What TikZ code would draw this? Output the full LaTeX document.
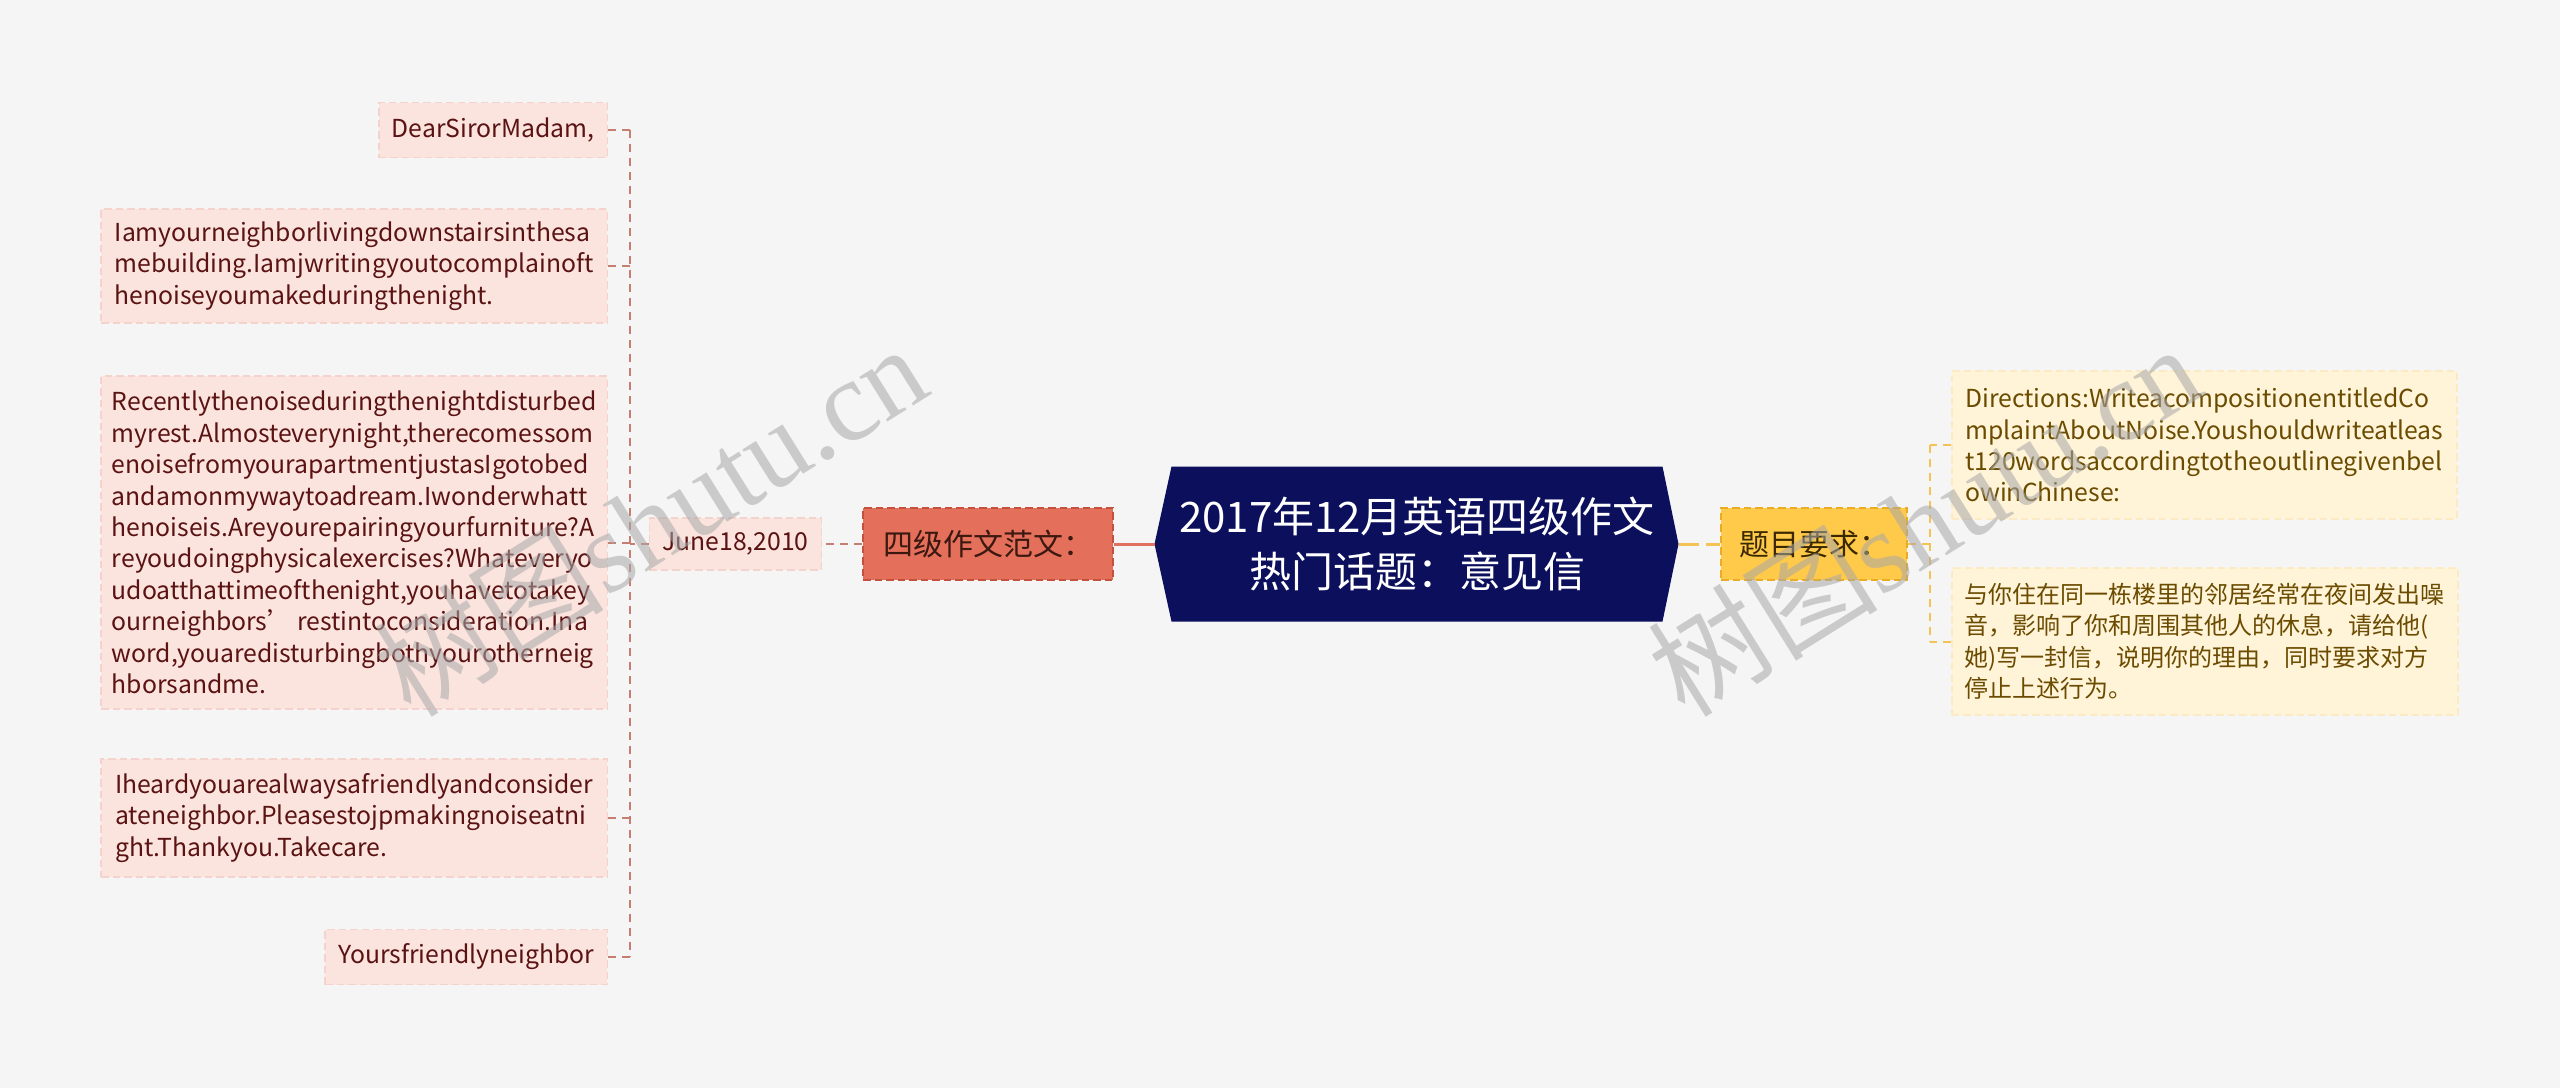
\documentclass[tikz,border=0pt]{standalone}
\usepackage{fontspec}
\setmainfont{Noto Sans CJK SC}
\newfontfamily\wmlatin{Liberation Serif}
\usetikzlibrary{calc}
\definecolor{bgc}{HTML}{F5F5F5}
\definecolor{leafLfill}{HTML}{FBE4DE}
\definecolor{leafLdraw}{HTML}{F3D3CB}
\definecolor{leafLtext}{HTML}{5A1212}
\definecolor{lineL}{HTML}{C67E70}
\definecolor{mainL}{HTML}{E07060}
\definecolor{midLfill}{HTML}{E46F5A}
\definecolor{midLdraw}{HTML}{C4513E}
\definecolor{midLtext}{HTML}{3B1810}
\definecolor{navy}{HTML}{0B0F5C}
\definecolor{midRfill}{HTML}{FFC94A}
\definecolor{midRdraw}{HTML}{E9AC24}
\definecolor{midRtext}{HTML}{3A2800}
\definecolor{leafRfill}{HTML}{FFF3D8}
\definecolor{leafRdraw}{HTML}{FBEAC4}
\definecolor{leafRtext}{HTML}{6A4B00}
\definecolor{lineR}{HTML}{F3C453}
\definecolor{wm}{HTML}{A8A8A8}
\pgfdeclarelayer{back}
\pgfdeclarelayer{hexl}
\pgfsetlayers{back,hexl,main}
\tikzset{
  boxdash/.style={dash pattern=on 3pt off 1.6pt, line width=0.6pt},
  leafL/.style={boxdash, fill=leafLfill, draw=leafLdraw, text=leafLtext,
    font=\fontsize{9.9pt}{12.56pt}\selectfont, inner xsep=5.2pt, inner ysep=0pt, align=left, anchor=east},
  leafR/.style={boxdash, fill=leafRfill, draw=leafRdraw, text=leafRtext,
    font=\fontsize{9.9pt}{12.56pt}\selectfont, inner xsep=5.2pt, inner ysep=0pt, align=left, anchor=west},
  midL/.style={boxdash, fill=midLfill, draw=midLdraw, text=midLtext,
    font=\fontsize{12pt}{15pt}\selectfont, inner sep=0pt, line width=0.7pt},
  midR/.style={boxdash, fill=midRfill, draw=midRdraw, text=midRtext,
    font=\fontsize{12pt}{15pt}\selectfont, inner sep=0pt, line width=0.7pt},
  cenbox/.style={text=white, font=\fontsize{16.8pt}{22pt}\selectfont, align=center,
    minimum width=196pt, minimum height=61.6pt, inner sep=0pt},
  conL/.style={draw=lineL, line width=0.8pt, dash pattern=on 3.2pt off 2.4pt},
  conR/.style={draw=lineR, line width=0.8pt, dash pattern=on 3.2pt off 2.4pt},
  wmark/.style={text=wm, opacity=0.55, rotate=32, font=\fontsize{46pt}{46pt}\selectfont}
}
\begin{document}
\begin{tikzpicture}[x=0.4pt,y=-0.4pt]
\begin{pgfonlayer}{back}
\fill[bgc] (0,0) rectangle (2560,1088);
\end{pgfonlayer}
\useasboundingbox (0,0) rectangle (2560,1088);

% center
\node[cenbox] (c) at (1417,544) {2017年12月英语四级作文\\热门话题：意见信};
\coordinate (cL) at ($(c.west)+(-17,0)$);
\coordinate (cR) at ($(c.east)+(16,0)$);
\begin{pgfonlayer}{hexl}
\fill[navy] (cL) -- (c.north west) -- (c.north east) -- (cR) -- (c.south east) -- (c.south west) -- cycle;
\end{pgfonlayer}

% left branch
\node[midL, minimum width=100pt, minimum height=28.8pt] (sj) at (988,544) {四级作文范文：};
\node[leafL, anchor=center, minimum width=67.6pt, minimum height=20.8pt] (june) at (735.5,544) {June18,2010};
\coordinate (sp) at (630,544);

\node[leafL, minimum width=90.8pt, minimum height=22pt] (l1) at (608,130) {DearSirorMadam,};
\node[leafL, minimum width=202.4pt, minimum height=45.6pt] (l2) at (608,266) {Iamyourneighborlivingdownstairsinthesa\\mebuilding.Iamjwritingyoutocomplainoft\\henoiseyoumakeduringthenight.};
\node[leafL, inner xsep=3.6pt, minimum width=202.4pt, minimum height=133.2pt] (l3) at (608,542.5) {Recentlythenoiseduringthenightdisturbed\\myrest.Almosteverynight,therecomessom\\enoisefromyourapartmentjustasIgotobed\\andamonmywaytoadream.Iwonderwhatt\\henoiseis.Areyourepairingyourfurniture?A\\reyoudoingphysicalexercises?Whateveryo\\udoatthattimeofthenight,youhavetotakey\\ourneighbors’\hspace{0.2em}restintoconsideration.Ina\\word,youaredisturbingbothyourotherneig\\hborsandme.};
\node[leafL, minimum width=202.4pt, minimum height=47.2pt] (l4) at (608,818) {Iheardyouarealwaysafriendlyandconsider\\ateneighbor.Pleasestojpmakingnoiseatni\\ght.Thankyou.Takecare.};
\node[leafL, minimum width=112.4pt, minimum height=22pt] (l5) at (608,957) {Yoursfriendlyneighbor};

\draw[draw=mainL, line width=1.2pt] (cL) -- (sj.east);
\draw[conL] (sj.west) -- (june.east);
\draw[conL] (june.west) -- (sp);
\draw[conL] (l1.east -| sp) -- (l5.east -| sp);
\foreach \n in {l1,l2,l3,l4,l5} \draw[conL] (\n.east) -- (\n.east -| sp);

% right branch
\node[midR, minimum width=74.4pt, minimum height=28.8pt] (tm) at (1814,544) {题目要求：};
\coordinate (rsp) at (1930,544);
\node[leafR, minimum width=202pt, minimum height=59.2pt] (r1) at (1951,445) {Directions:WriteacompositionentitledCo\\mplaintAboutNoise.Youshouldwriteatleas\\t120wordsaccordingtotheoutlinegivenbel\\owinChinese:};
\node[leafR, font=\fontsize{9.6pt}{12.56pt}\selectfont, minimum width=202pt, minimum height=58.8pt] (r2) at (1951,641.5) {与你住在同一栋楼里的邻居经常在夜间发出噪\\音，影响了你和周围其他人的休息，请给他(\\她)写一封信，说明你的理由，同时要求对方\\停止上述行为。};

\draw[draw=lineR, line width=1.2pt, dash pattern=on 8pt off 3pt] (cR) -- (tm.west);
\draw[conR] (tm.east) -- (rsp);
\draw[conR] (r1.west -| rsp) -- (r2.west -| rsp);
\foreach \n in {r1,r2} \draw[conR] (\n.west) -- (\n.west -| rsp);

% watermarks
\node[wmark] (w1) at (650,519) {树图{\wmlatin shutu.cn}};
\node[wmark] (w2) at (1924,519) {树图{\wmlatin shutu.cn}};
\end{tikzpicture}
\end{document}
